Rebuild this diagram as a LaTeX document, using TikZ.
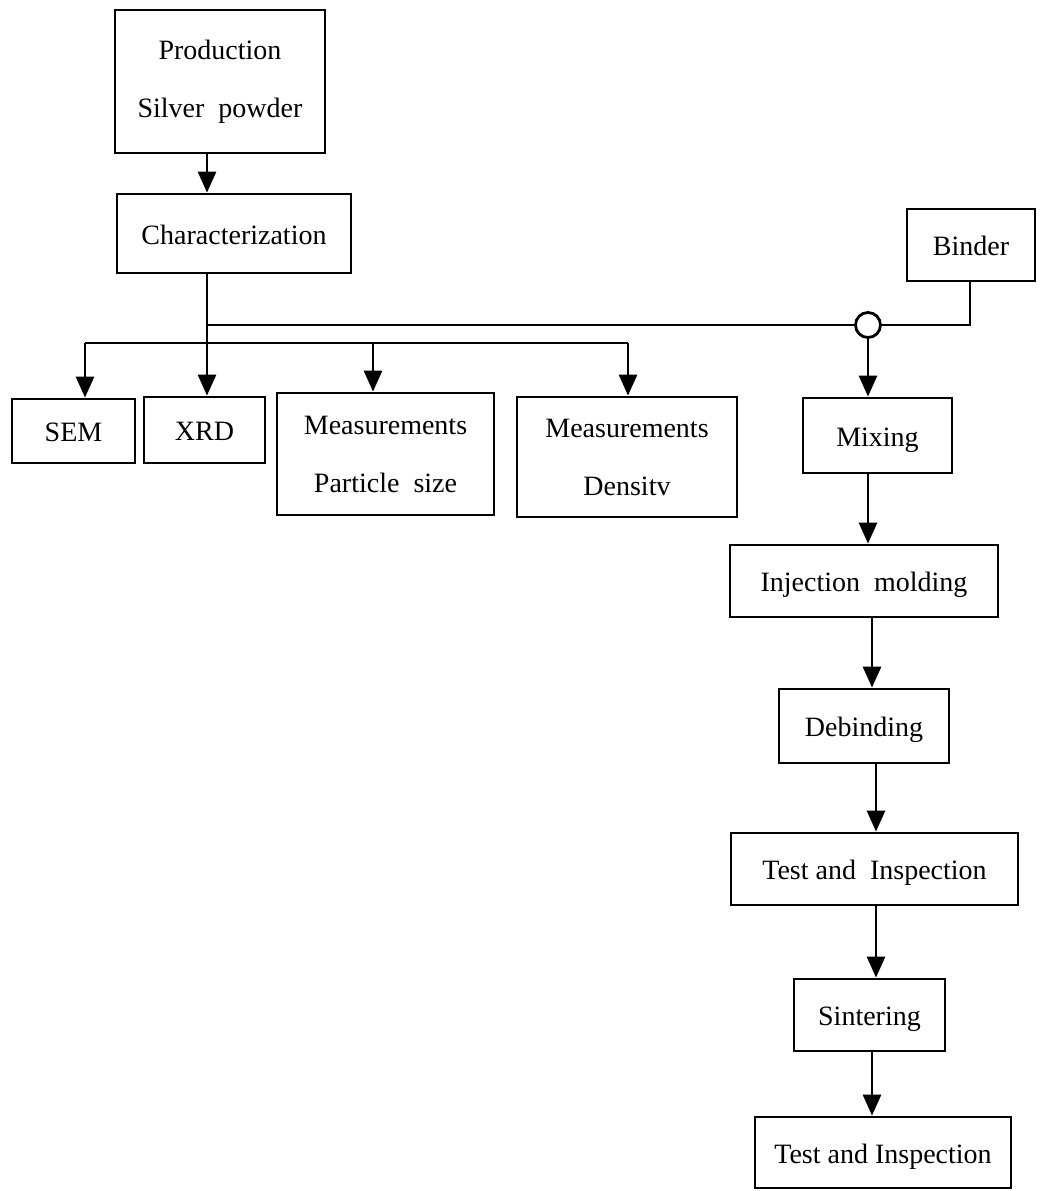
\documentclass[tikz,border=0pt]{standalone}
\usepackage{fontspec}
\setmainfont{Liberation Serif}
\usetikzlibrary{arrows.meta}
\begin{document}
\begin{tikzpicture}[x=1pt,y=-1pt,
  box/.style={draw,line width=2.8pt,inner sep=0pt,align=center,
    font=\fontsize{28}{58}\selectfont},
  one/.style={text height=27pt,text depth=6pt},
  conn/.style={line width=2.8pt},
  arr/.style={conn,-{Triangle[length=21pt,width=18pt]}}]
\useasboundingbox (0,0) rectangle (1048,1191);
% boxes: centre and size from pixel extents
\newcommand\mybox[7][]{\node[box,#1,minimum width=#5-#3,minimum height=#6-#4] (#2) at ({(#3+#5)/2},{(#4+#6)/2}) {#7};}
\mybox{prod}{115}{10}{325}{153}{Production\\Silver\ \ powder}
\mybox[one]{char}{117}{194}{351}{273}{Characterization}
\mybox[one]{binder}{907}{209}{1035}{281}{Binder}
\mybox[one]{sem}{12}{399}{135}{463}{SEM}
\mybox[one]{xrd}{144}{397}{265}{463}{XRD}
\mybox{mps}{277}{393}{494}{515}{Measurements\\Particle\ \ size}
\mybox{mden}{517}{397}{737}{517}{Measurements\\Densitv}
\mybox[one]{mix}{803}{398}{952}{473}{Mixing}
\mybox[one]{inj}{730}{545}{998}{617}{Injection\ \ molding}
\mybox[one]{deb}{779}{689}{949}{763}{Debinding}
\mybox[one]{ti1}{731}{833}{1018}{905}{Test and\ \ Inspection}
\mybox[one]{sin}{794}{979}{945}{1051}{Sintering}
\mybox[one]{ti2}{755}{1117}{1011}{1188}{Test and Inspection}
% junction circle
\node[draw,circle,line width=2.8pt,minimum size=25pt,inner sep=0pt] (j) at (868,325) {};
% helper coordinates
\coordinate (xa) at (207,0);
\coordinate (xs) at (85,0);
\coordinate (xm) at (373,0);
\coordinate (xd) at (628,0);
\coordinate (xb) at (970,0);
\coordinate (yb) at (0,343);
% connectors
\draw[arr] (prod.south -| xa) -- (char.north -| xa);
\draw[arr] (char.south -| xa) -- (xrd.north -| xa);
\draw[conn] (xa |- j.west) -- (j.west);
\draw[conn] (binder.south -| xb) |- (j.east);
\draw[arr] (j.south) -- (mix.north -| j);
\draw[conn] (xs |- yb) -- (xd |- yb);
\draw[arr] (xs |- yb) -- (sem.north -| xs);
\draw[arr] (xm |- yb) -- (mps.north -| xm);
\draw[arr] (xd |- yb) -- (mden.north -| xd);
\coordinate (x2) at (872,0);
\coordinate (x3) at (876,0);
\draw[arr] (mix.south -| j) -- (inj.north -| j);
\draw[arr] (inj.south -| x2) -- (deb.north -| x2);
\draw[arr] (deb.south -| x3) -- (ti1.north -| x3);
\draw[arr] (ti1.south -| x3) -- (sin.north -| x3);
\draw[arr] (sin.south -| x2) -- (ti2.north -| x2);
\end{tikzpicture}
\end{document}
